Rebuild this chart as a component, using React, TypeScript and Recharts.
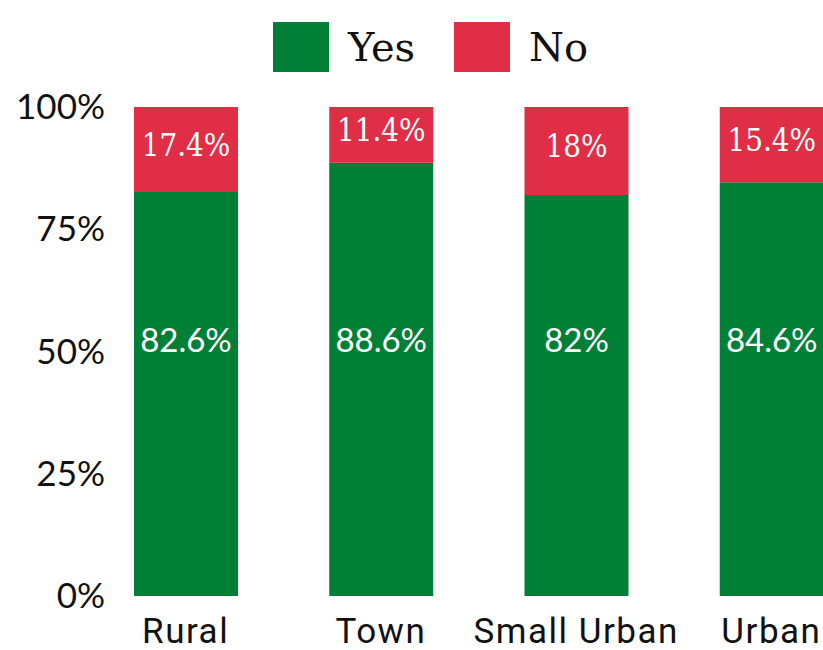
import { Bar, BarChart, LabelList, Legend, XAxis, YAxis } from "recharts";

const areas = ["Rural", "Town", "Small Urban", "Urban"];
const yesShare = [82.6, 88.6, 82, 84.6];
const noShare = [17.4, 11.4, 18, 15.4];
const yTicks = [0, 25, 50, 75, 100];

const GREEN = "#008037";
const RED = "#DF2E45";

const data = areas.map((area, i) => ({ area, yes: yesShare[i], no: noShare[i] }));

const pct = (v: number) => `${v}%`;

function YTick({ x, y, payload }: any) {
  return (
    <text x={x + 25} y={y + 12} textAnchor="end" fontFamily="Lato" fontSize={35} fill="#111">
      {pct(payload.value)}
    </text>
  );
}

function XTick({ x, y, payload }: any) {
  return (
    <text x={x} y={y + 39} textAnchor="middle" fontFamily="Roboto" fontSize={35} letterSpacing={1.5} fill="#111">
      {payload.value}
    </text>
  );
}

// "Yes" labels sit with their baseline on the 50% line
function YesLabel({ x, y, width, height, value }: any) {
  const bottom = y + height;
  const base = bottom - (height * 50) / value;
  return (
    <text x={x + width / 2} y={base} textAnchor="middle" fontFamily="Lato" fontSize={33} fill="#fff">
      {pct(value)}
    </text>
  );
}

function NoLabel({ x, y, width, height, value }: any) {
  return (
    <text
      x={x + width / 2}
      y={y + height / 2 + 6}
      textAnchor="middle"
      fontFamily="'DejaVu Serif Condensed', 'DejaVu Serif'"
      fontSize={31}
      fill="#fff"
    >
      {pct(value)}
    </text>
  );
}

function LegendBox() {
  const items = [
    { name: "Yes", color: GREEN, left: 273 },
    { name: "No", color: RED, left: 454 },
  ];
  return (
    <div style={{ position: "relative", height: 80, width: 823 }}>
      {items.map((it) => (
        <div key={it.name} style={{ position: "absolute", left: it.left, top: 22, display: "flex", alignItems: "center" }}>
          <div style={{ width: 56, height: 50, background: it.color }} />
          <span style={{ marginLeft: 19, fontFamily: "'DejaVu Serif'", fontSize: 40, color: "#111", lineHeight: "50px" }}>
            {it.name}
          </span>
        </div>
      ))}
    </div>
  );
}

export default function App() {
  return (
    <div style={{ width: 823, height: 650, overflow: "hidden", position: "relative", background: "#fff" }}>
      <style>{`body{margin:0}`}</style>
      <BarChart width={869} height={650} data={data} margin={{ top: 27, right: 0, bottom: 0, left: 0 }}>
        <Legend
          verticalAlign="top"
          align="left"
          content={() => <LegendBox />}
          wrapperStyle={{ top: 0, left: 0, height: 80 }}
        />
        <XAxis dataKey="area" axisLine={false} tickLine={false} height={54} tick={<XTick />} interval={0} />
        <YAxis
          domain={[0, 100]}
          ticks={yTicks}
          axisLine={false}
          tickLine={false}
          width={88}
          tick={<YTick />}
        />
        <Bar dataKey="yes" stackId="a" fill={GREEN} barSize={104} isAnimationActive={false}>
          <LabelList dataKey="yes" content={<YesLabel />} />
        </Bar>
        <Bar dataKey="no" stackId="a" fill={RED} barSize={104} isAnimationActive={false}>
          <LabelList dataKey="no" content={<NoLabel />} />
        </Bar>
      </BarChart>
    </div>
  );
}
